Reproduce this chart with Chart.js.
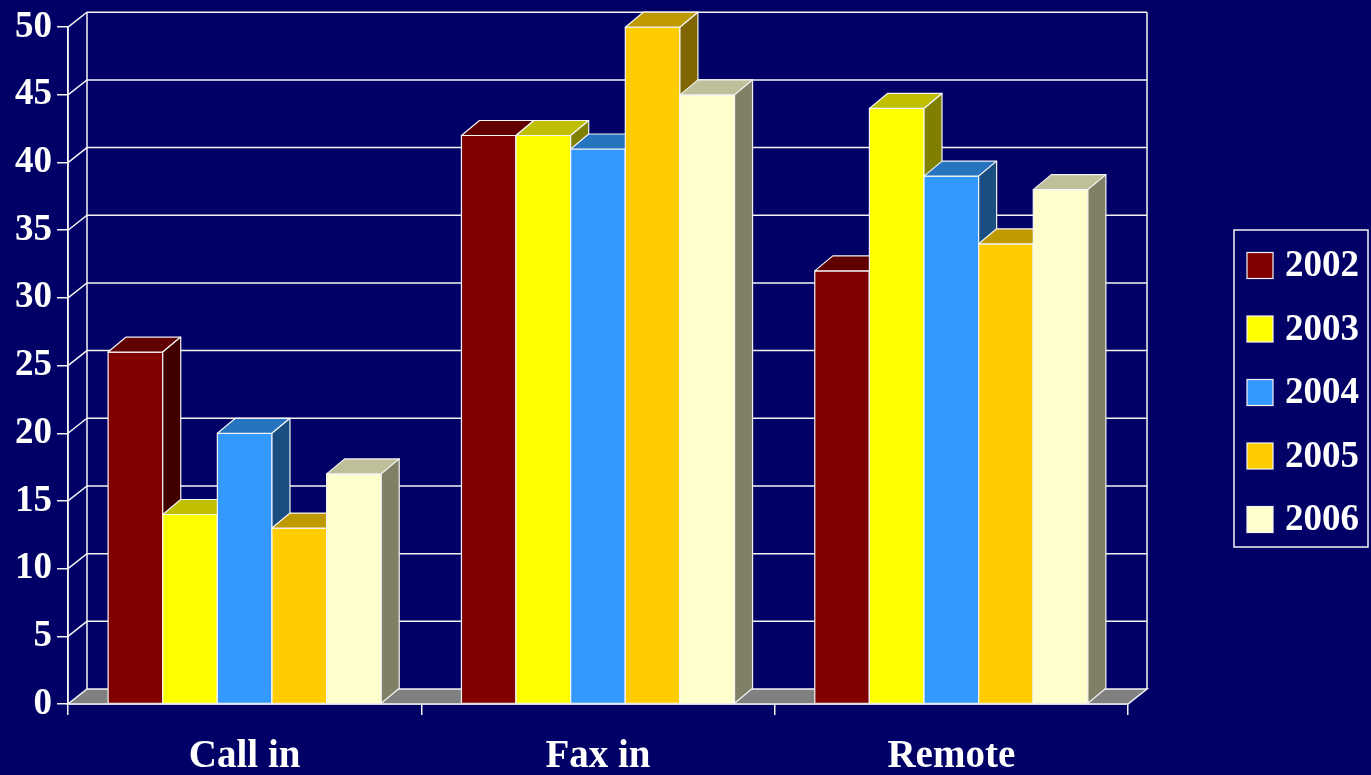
<!DOCTYPE html>
<html>
<head>
<meta charset="utf-8">
<title>Call in / Fax in / Remote 2002–2006</title>
<script src="https://cdn.jsdelivr.net/npm/chart.js@4.4.1/dist/chart.umd.min.js"></script>
<style>
  html, body { margin: 0; padding: 0; background: #000066; }
  #wrap { width: 1371px; height: 775px; }
</style>
</head>
<body>
<div id="wrap"><canvas id="c" width="1371" height="775"></canvas></div>
<script>
// Categories and yearly series
const categories = ['Call in', 'Fax in', 'Remote'];
const years = ['2002', '2003', '2004', '2005', '2006'];
const values2002 = [26, 42, 32];
const values2003 = [14, 42, 44];
const values2004 = [20, 41, 39];
const values2005 = [13, 50, 34];
const values2006 = [17, 45, 38];
const yearColors = ['#800000', '#ffff00', '#3399ff', '#ffcc00', '#ffffcc'];

const BG = '#000066';
const LINE = '#f4f4f4';
const FONT = "'Liberation Serif', 'Times New Roman', serif";
// depth offsets for the walls and for the bar blocks
const WALL_DX = 19, WALL_DY = -15;
const BAR_DX = 18, BAR_DY = -15;

function shade(hex, f) {
  const n = parseInt(hex.slice(1), 16);
  const r = Math.round(((n >> 16) & 255) * f);
  const g = Math.round(((n >> 8) & 255) * f);
  const b = Math.round((n & 255) * f);
  return `rgb(${r},${g},${b})`;
}

function poly(ctx, pts, fill) {
  ctx.beginPath();
  ctx.moveTo(pts[0][0], pts[0][1]);
  for (let i = 1; i < pts.length; i++) ctx.lineTo(pts[i][0], pts[i][1]);
  ctx.closePath();
  if (fill) { ctx.fillStyle = fill; ctx.fill(); }
  ctx.stroke();
}

const boxPlugin = {
  id: 'box3d',
  beforeDraw(chart) {
    const ctx = chart.ctx;
    ctx.save();
    ctx.fillStyle = BG;
    ctx.fillRect(0, 0, chart.width, chart.height);
    ctx.restore();
  },
  beforeDatasetsDraw(chart) {
    const ctx = chart.ctx;
    const a = chart.chartArea;
    const ys = chart.scales.y;
    ctx.save();
    ctx.strokeStyle = LINE;
    ctx.lineWidth = 1.5;
    // back wall horizontal lines and side-wall diagonals
    ys.ticks.forEach(t => {
      const py = ys.getPixelForValue(t.value);
      if (t.value === 0) return;
      ctx.beginPath();
      ctx.moveTo(a.left, py);
      ctx.lineTo(a.left + WALL_DX, py + WALL_DY);
      ctx.lineTo(a.right + WALL_DX, py + WALL_DY);
      ctx.stroke();
    });
    // wall edges
    ctx.beginPath();
    ctx.moveTo(a.left + WALL_DX, a.top + WALL_DY);
    ctx.lineTo(a.left + WALL_DX, a.bottom + WALL_DY);
    ctx.moveTo(a.right + WALL_DX, a.top + WALL_DY);
    ctx.lineTo(a.right + WALL_DX, a.bottom + WALL_DY);
    ctx.stroke();
    // floor
    poly(ctx, [
      [a.left, a.bottom], [a.right, a.bottom],
      [a.right + WALL_DX, a.bottom + WALL_DY], [a.left + WALL_DX, a.bottom + WALL_DY]
    ], '#808080');
    // front axis line
    ctx.beginPath();
    ctx.moveTo(a.left, a.top);
    ctx.lineTo(a.left, a.bottom);
    ctx.stroke();
    ctx.restore();
  },
  afterDatasetsDraw(chart) {
    const ctx = chart.ctx;
    const metas = chart.data.datasets.map((d, i) => chart.getDatasetMeta(i));
    ctx.save();
    ctx.strokeStyle = LINE;
    ctx.lineWidth = 1.2;
    ctx.lineJoin = 'round';
    for (let c = 0; c < categories.length; c++) {
      metas.forEach((meta, d) => {
        const el = meta.data[c];
        const p = el.getProps(['x', 'y', 'base', 'width'], true);
        const l = p.x - p.width / 2, r = p.x + p.width / 2;
        const top = p.y, bot = p.base;
        const col = yearColors[d];
        poly(ctx, [[l, top], [r, top], [r, bot], [l, bot]], col);
        poly(ctx, [[l, top], [r, top], [r + BAR_DX, top + BAR_DY], [l + BAR_DX, top + BAR_DY]], shade(col, 0.75));
        poly(ctx, [[r, top], [r + BAR_DX, top + BAR_DY], [r + BAR_DX, bot + BAR_DY], [r, bot]], shade(col, 0.5));
      });
    }
    ctx.restore();
  },
  afterDraw(chart) {
    // legend box on the right
    const ctx = chart.ctx;
    ctx.save();
    ctx.strokeStyle = LINE;
    ctx.lineWidth = 1.5;
    ctx.strokeRect(1234, 230, 134, 317);
    ctx.font = `bold 37px ${FONT}`;
    ctx.textBaseline = 'middle';
    ctx.textAlign = 'left';
    chart.data.datasets.forEach((ds, i) => {
      const cy = 265.5 + i * 63.5;
      ctx.fillStyle = ds.backgroundColor;
      ctx.fillRect(1247, cy - 13, 26, 26);
      ctx.lineWidth = 1.2;
      ctx.strokeRect(1247, cy - 13, 26, 26);
      ctx.fillStyle = '#ffffff';
      ctx.fillText(ds.label, 1285, cy + 1);
    });
    ctx.restore();
  }
};

const seriesValues = [values2002, values2003, values2004, values2005, values2006];

new Chart(document.getElementById('c'), {
  type: 'bar',
  data: {
    labels: categories,
    datasets: years.map((yr, i) => ({
      label: yr,
      data: seriesValues[i],
      backgroundColor: yearColors[i],
      borderColor: LINE,
      borderWidth: 1,
      barPercentage: 1,
      categoryPercentage: 0.773
    }))
  },
  options: {
    responsive: false,
    animation: false,
    events: [],
    layout: { padding: { top: 25, right: 243, left: 0, bottom: 0 } },
    plugins: { legend: { display: false }, tooltip: { enabled: false } },
    scales: {
      x: {
        afterFit(s) { s.height = 71; },
        grid: { display: true, drawOnChartArea: false, drawTicks: true, tickLength: 11, color: LINE, lineWidth: 1.5, offset: true },
        border: { display: true, color: LINE, width: 1.5 },
        ticks: { color: '#ffffff', padding: 19, font: { family: FONT, weight: 'bold', size: 39 } }
      },
      y: {
        min: 0, max: 50,
        afterFit(s) { s.width = 68; },
        grid: { display: true, drawOnChartArea: false, drawTicks: true, tickLength: 11, color: LINE, lineWidth: 1.5 },
        border: { display: true, color: LINE, width: 1.5 },
        ticks: { stepSize: 5, color: '#ffffff', padding: 5, font: { family: FONT, weight: 'bold', size: 37 } }
      }
    }
  },
  plugins: [boxPlugin]
});
</script>
</body>
</html>
